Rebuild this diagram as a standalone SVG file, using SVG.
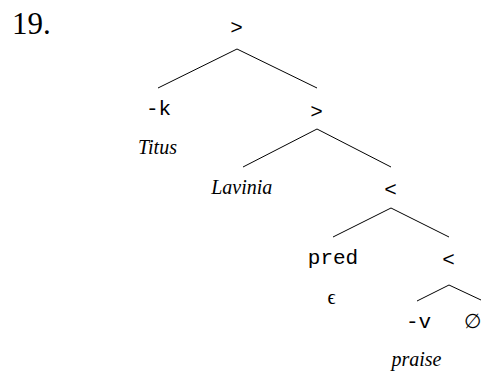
<svg xmlns="http://www.w3.org/2000/svg" width="483" height="372" viewBox="0 0 483 372">
  <style>
    .mono { font-family: "Liberation Mono", "Courier New", monospace; font-size: 21px; fill: #000; text-anchor: middle; }
    .it { font-family: "Liberation Serif", "Times New Roman", serif; font-style: italic; font-size: 20px; fill: #000; text-anchor: middle; }
    .num { font-family: "Liberation Serif", "Times New Roman", serif; font-size: 31px; fill: #000; }
    .sym { font-family: "Liberation Serif", "DejaVu Serif", serif; font-size: 20px; fill: #000; }
    .edge { stroke: #000; stroke-width: 1; fill: none; }
  </style>
  <rect width="483" height="372" fill="#fff"/>

  <text class="num" x="12" y="34">19.</text>

  <!-- branches of the tree -->
  <g id="connectors">
    <line class="edge" x1="237" y1="49" x2="158" y2="88"/>
    <line class="edge" x1="237" y1="49" x2="317" y2="88"/>
    <line class="edge" x1="317" y1="129" x2="243" y2="167"/>
    <line class="edge" x1="317" y1="129" x2="391" y2="167"/>
    <line class="edge" x1="391" y1="208" x2="333" y2="237"/>
    <line class="edge" x1="391" y1="208" x2="449" y2="237"/>
    <line class="edge" x1="449" y1="285" x2="417" y2="301"/>
    <line class="edge" x1="449" y1="285" x2="481" y2="300"/>
  </g>

  <g id="root"><text class="mono" x="236.5" y="34">&gt;</text></g>
  <g id="k-titus">
    <text class="mono" x="158.5" y="115">-k</text>
    <text class="it" x="157.5" y="154">Titus</text>
  </g>
  <g id="merge2"><text class="mono" x="316.5" y="118">&gt;</text></g>
  <g id="lavinia"><text class="it" x="241.7" y="194">Lavinia</text></g>
  <g id="merge3"><text class="mono" x="390.5" y="196">&lt;</text></g>
  <g id="pred">
    <text class="mono" x="333" y="264">pred</text>
    <text class="sym" x="331.5" y="304" text-anchor="middle">ϵ</text>
  </g>
  <g id="merge4"><text class="mono" x="448.5" y="266">&lt;</text></g>
  <g id="v-praise">
    <text class="mono" x="418.5" y="328">-v</text>
    <text class="it" x="416.5" y="366">praise</text>
  </g>
  <g id="empty"><text class="sym" x="464" y="328" font-size="18">∅</text></g>
</svg>
